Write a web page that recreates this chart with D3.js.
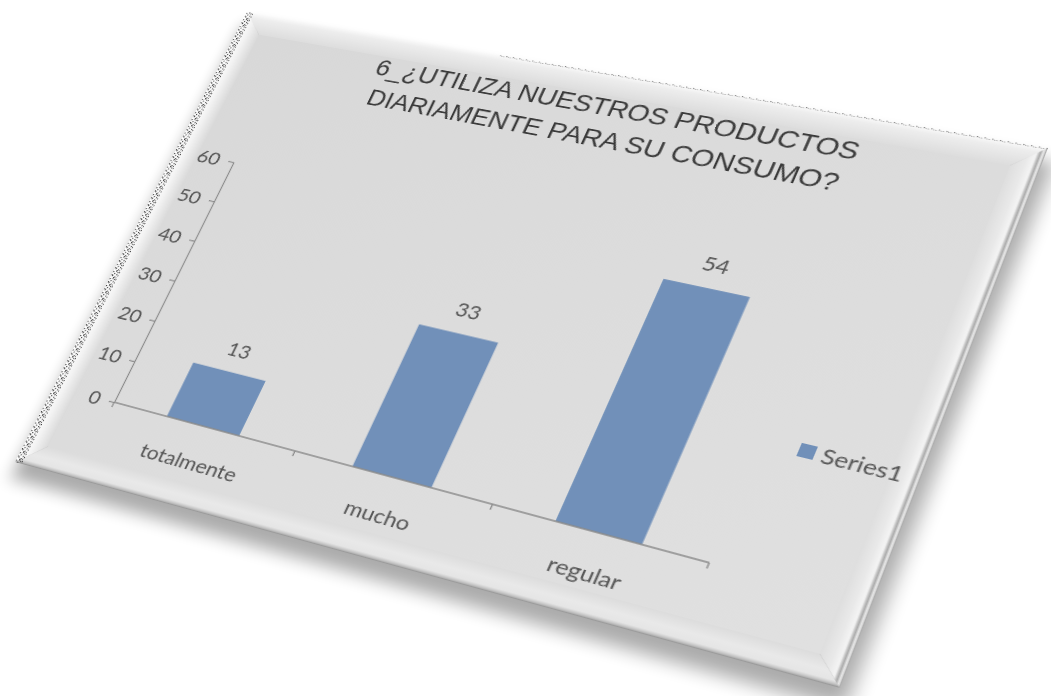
<!DOCTYPE html>
<html>
<head>
<meta charset="utf-8">
<script src="https://cdn.jsdelivr.net/npm/d3@7"></script>
<style>
  html, body { margin: 0; background: #ffffff; overflow: hidden; width: 1051px; height: 696px; }
  .layer { position: absolute; left: 0; top: 0; transform-origin: 0 0; }
</style>
</head>
<body>
<div id="plate" class="layer"></div>
<div id="chart" class="layer"></div>
<script>
// ---- chart data ----
const categories = ["totalmente", "mucho", "regular"];
const values = [13, 33, 54];
const yTicks = [0, 10, 20, 30, 40, 50, 60];
const seriesName = "Series1";
const titleLines = ["6_\u00BFUTILIZA NUESTROS PRODUCTOS", "DIARIAMENTE PARA SU CONSUMO?"];

// ---- flat chart space ----
const W = 830, H = 580;
const plotL = 60, plotR = 664, plotT = 180, plotB = 481;

const x = d3.scaleBand().domain(categories).range([plotL, plotR]).paddingInner(0.6).paddingOuter(0.3);
const y = d3.scaleLinear().domain([0, 60]).range([plotB, plotT]);

// ---- projective placement ----
function solveLinear(A, B) {
  const n = B.length;
  A = A.map(r => r.slice()); B = B.slice();
  for (let c = 0; c < n; c++) {
    let p = c;
    for (let r = c + 1; r < n; r++) if (Math.abs(A[r][c]) > Math.abs(A[p][c])) p = r;
    [A[c], A[p]] = [A[p], A[c]]; [B[c], B[p]] = [B[p], B[c]];
    for (let r = 0; r < n; r++) {
      if (r === c) continue;
      const f = A[r][c] / A[c][c];
      for (let k = c; k < n; k++) A[r][k] -= f * A[c][k];
      B[r] -= f * B[c];
    }
  }
  return B.map((b, i) => b / A[i][i]);
}
// least-squares homography (flat -> page) from any number of point pairs
function fitHomography(src, dst) {
  const s = 1000, rows = [], rhs = [];
  src.forEach(([X0, Y0], i) => {
    const X = X0 / s, Y = Y0 / s, u = dst[i][0] / s, v = dst[i][1] / s;
    rows.push([X, Y, 1, 0, 0, 0, -X * u, -Y * u]); rhs.push(u);
    rows.push([0, 0, 0, X, Y, 1, -X * v, -Y * v]); rhs.push(v);
  });
  const N = Array.from({ length: 8 }, () => new Array(8).fill(0)), R = new Array(8).fill(0);
  rows.forEach((r, k) => {
    for (let i = 0; i < 8; i++) {
      R[i] += r[i] * rhs[k];
      for (let j = 0; j < 8; j++) N[i][j] += r[i] * r[j];
    }
  });
  const [a, b, c, d, e, f, g, h] = solveLinear(N, R);
  return [a, b, c * s, d, e, f * s, g / s, h / s];
}
function matrix3d(m) {
  const [a, b, c, d, e, f, g, h] = m;
  return `matrix3d(${a},${d},0,${g},${b},${e},0,${h},0,0,1,0,${c},${f},0,1)`;
}

// plate outline on the page
const plateM = fitHomography([[0, 0], [W, 0], [W, H], [0, H]],
  [[247, 12], [1048, 148], [840, 688], [15, 462]]);

// chart content anchored on axis ends and bar corners
const bx0 = categories.map(c => x(c)), bx1 = categories.map(c => x(c) + x.bandwidth());
const anchorsFlat = [
  [plotL, y(60)], [plotL, y(0)], [plotR, y(0)],
  [bx0[0], y(values[0])], [bx1[0], y(values[0])],
  [bx0[1], y(values[1])], [bx1[1], y(values[1])],
  [bx0[2], y(values[2])], [bx1[2], y(values[2])],
  [bx0[0], y(0)], [bx1[0], y(0)]
];
const anchorsPage = [
  [233, 163], [114, 397], [708, 564],
  [192, 365], [266, 382],
  [420, 325], [500, 342],
  [663, 280], [750, 294],
  [167, 417], [240, 437]
];
const chartM = fitHomography(anchorsFlat, anchorsPage);

// ---- plate ----
const plate = d3.select("#plate")
  .style("width", W + "px").style("height", H + "px")
  .style("transform", matrix3d(plateM));
const ps = plate.append("svg").attr("width", W).attr("height", H)
  .style("overflow", "visible").style("display", "block");

const defs = ps.append("defs");
const blur = defs.append("filter").attr("id", "shadow")
  .attr("x", "-10%").attr("y", "-10%").attr("width", "120%").attr("height", "125%");
blur.append("feGaussianBlur").attr("stdDeviation", 9);

function linGrad(id, x1, y1, x2, y2, stops) {
  const g = defs.append("linearGradient").attr("id", id)
    .attr("x1", x1).attr("y1", y1).attr("x2", x2).attr("y2", y2);
  stops.forEach(([o, c]) => g.append("stop").attr("offset", o).attr("stop-color", c));
}
linGrad("face", 0, 0, 1, 1, [[0, "#d8d8d8"], [0.5, "#dcdcdc"], [1, "#e0e0e0"]]);
linGrad("bevTop", 0, 0, 0, 1, [[0, "#fbfbfb"], [0.25, "#ededed"], [1, "#dddddd"]]);
linGrad("bevLeft", 0, 0, 1, 0, [[0, "#ffffff"], [0.45, "#f3f3f3"], [1, "#dadada"]]);
linGrad("bevBottom", 0, 0, 0, 1, [[0, "#dcdcdc"], [0.5, "#e9e9e9"], [0.8, "#e5e5e5"], [0.93, "#bdbdbd"], [1, "#8f8f8f"]]);
linGrad("bevRight", 0, 0, 1, 0, [[0, "#dedede"], [0.45, "#e9e9e9"], [0.7, "#f4f4f4"], [0.82, "#a9a9a9"], [0.92, "#f0f0f0"], [1, "#9a9a9a"]]);

// speckled outer rim
const speck = defs.append("pattern").attr("id", "speck")
  .attr("patternUnits", "userSpaceOnUse").attr("width", 7).attr("height", 9);
[[0, 1], [3, 0], [5, 4], [1, 6], [4, 7], [2, 3], [6, 8], [0, 5], [3, 8], [5, 1]].forEach(([px, py]) =>
  speck.append("rect").attr("x", px).attr("y", py).attr("width", 1.3).attr("height", 1.3).attr("fill", "#2e2e2e"));

ps.append("rect")
  .attr("x", 4).attr("y", 14).attr("width", W + 6).attr("height", H + 4)
  .attr("fill", "#000").attr("opacity", 0.33)
  .attr("filter", "url(#shadow)");

const bw = 26;
const bevel = ps.append("g");
bevel.append("polygon").attr("points", [[0, 0], [W, 0], [W - bw, bw], [bw, bw]].join(" ")).attr("fill", "url(#bevTop)");
bevel.append("polygon").attr("points", [[0, 0], [bw, bw], [bw, H - bw], [0, H]].join(" ")).attr("fill", "url(#bevLeft)");
bevel.append("polygon").attr("points", [[0, H], [bw, H - bw], [W - bw, H - bw], [W, H]].join(" ")).attr("fill", "url(#bevBottom)");
bevel.append("polygon").attr("points", [[W, 0], [W, H], [W - bw, H - bw], [W - bw, bw]].join(" ")).attr("fill", "url(#bevRight)");
bevel.append("rect").attr("x", bw).attr("y", bw).attr("width", W - 2 * bw).attr("height", H - 2 * bw).attr("fill", "url(#face)");
bevel.append("rect").attr("x", 0).attr("y", 0).attr("width", 8).attr("height", H).attr("fill", "url(#speck)").attr("opacity", 0.9);
bevel.append("rect").attr("x", W * 0.35).attr("y", 0).attr("width", W * 0.65).attr("height", 1.6).attr("fill", "url(#speck)").attr("opacity", 0.6);

// ---- chart ----
const chart = d3.select("#chart")
  .style("width", W + "px").style("height", H + "px")
  .style("transform", matrix3d(chartM));
const svg = chart.append("svg").attr("width", W).attr("height", H)
  .style("overflow", "visible").style("display", "block");

const textColor = "#555555";
const axisColor = "#8a8a8a";
const barColor = "#7190b9";
const labelFont = "Lato, 'Open Sans', sans-serif";

// title
svg.append("g").selectAll("text").data(titleLines).join("text")
  .attr("x", 401).attr("y", (d, i) => 45 + i * 37)
  .attr("text-anchor", "middle")
  .attr("font-family", "'Liberation Sans', Arial, sans-serif")
  .attr("font-size", 27).attr("fill", "#3b3b3b")
  .text(d => d);

// value axis
const yAxis = svg.append("g").attr("transform", `translate(${plotL},0)`)
  .call(d3.axisLeft(y).tickValues(yTicks).tickSize(6).tickSizeOuter(0).tickPadding(10));
yAxis.select(".domain").attr("stroke", axisColor).attr("stroke-width", 1.3);
yAxis.selectAll(".tick line").attr("stroke", axisColor).attr("stroke-width", 1.3);
yAxis.selectAll(".tick text")
  .attr("font-family", labelFont).attr("font-size", 22).attr("fill", textColor);

// bars
svg.append("g").selectAll("rect").data(values).join("rect")
  .attr("x", (d, i) => x(categories[i]))
  .attr("y", d => y(d))
  .attr("width", x.bandwidth())
  .attr("height", d => y(0) - y(d))
  .attr("fill", barColor);

// value labels
svg.append("g").selectAll("text").data(values).join("text")
  .attr("x", (d, i) => x(categories[i]) + x.bandwidth() / 2)
  .attr("y", d => y(d) - 18)
  .attr("text-anchor", "middle")
  .attr("font-family", labelFont).attr("font-size", 21).attr("fill", textColor)
  .text(d => d);

// category axis
const xAxis = svg.append("g");
xAxis.append("line").attr("x1", plotL).attr("x2", plotR).attr("y1", y(0)).attr("y2", y(0))
  .attr("stroke", axisColor).attr("stroke-width", 1.3);
const bounds = categories.map(c => x(c) - x.step() * x.paddingOuter()).concat([plotR]);
xAxis.selectAll(".tk").data(bounds).join("line").attr("class", "tk")
  .attr("x1", d => d).attr("x2", d => d).attr("y1", y(0)).attr("y2", y(0) + 6)
  .attr("stroke", axisColor).attr("stroke-width", 1.3);
xAxis.selectAll("text").data(categories).join("text")
  .attr("x", d => x(d) + x.bandwidth() / 2 + 3)
  .attr("y", y(0) + 50)
  .attr("text-anchor", "middle")
  .attr("font-family", labelFont).attr("font-size", 22).attr("fill", textColor)
  .text(d => d);

// legend
const legend = svg.append("g").attr("transform", "translate(697,344)");
legend.append("rect").attr("width", 14).attr("height", 14).attr("fill", barColor);
legend.append("text").attr("x", 20).attr("y", 15)
  .attr("font-family", labelFont).attr("font-size", 21.5).attr("fill", textColor)
  .text(seriesName);
</script>
</body>
</html>
